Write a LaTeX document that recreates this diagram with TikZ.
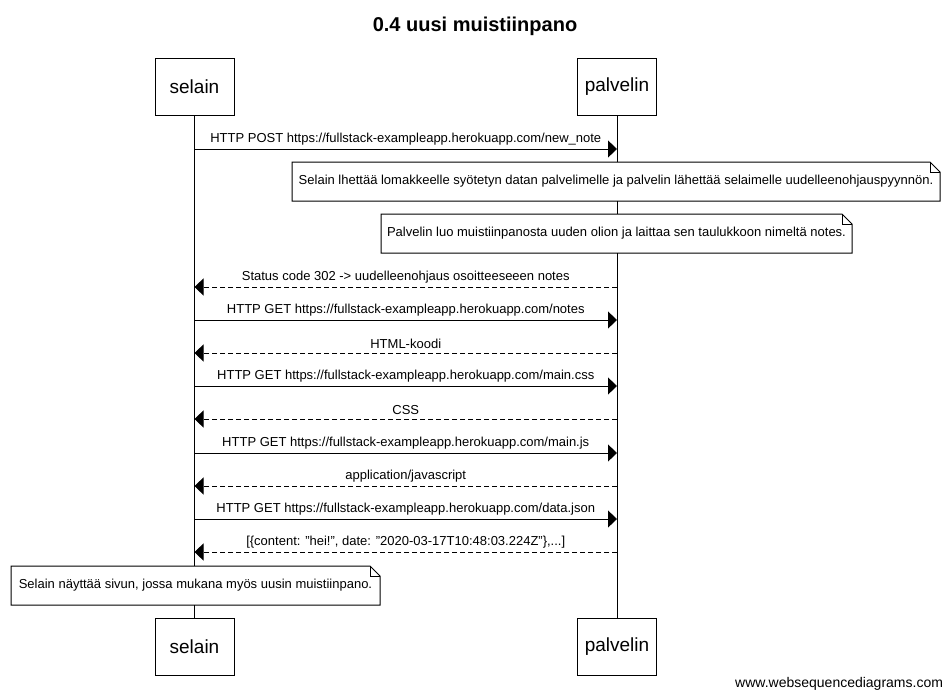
\documentclass[tikz,border=0pt]{standalone}
\usepackage{fontspec}
\setmainfont{Liberation Sans}
\usetikzlibrary{arrows.meta}
\begin{document}
\begin{tikzpicture}[x=1pt,y=-1pt,
  every node/.style={inner sep=0pt,outer sep=0pt},
  actor/.style={draw,line width=1pt,minimum width=79pt,minimum height=57pt,font=\fontsize{19}{22}\selectfont},
  msgtext/.style={font=\fontsize{13}{15}\selectfont,anchor=south},
  notetext/.style={font=\fontsize{13}{15}\selectfont},
  req/.style={line width=1pt,-{Triangle[length=9pt,width=17pt]}},
  resp/.style={line width=1pt,dash pattern=on 5pt off 3pt,-{Triangle[length=9pt,width=17pt]}},
  notefill/.style={fill=white,draw=none},
  noteline/.style={line width=1pt,line join=miter}
]
\useasboundingbox (0,0) rectangle (950,699);
\fill[white] (0,0) rectangle (950,699);

% title
\node[font=\bfseries\fontsize{20}{24}\selectfont] (title) at (475,26) {0.4 uusi muistiinpano};

% participants
\node[actor] (stop) at (194.5,86.5) {selain};
\node[actor] (ptop) at (617,86.5) {palvelin};
\node[actor] (sbot) at (194.5,646.5) {selain};
\node[actor] (pbot) at (617,646.5) {palvelin};

% lifelines
\draw[line width=1pt] (stop.south) -- (sbot.north);
\draw[line width=1pt] (ptop.south) -- (pbot.north);

% message anchor coordinates
\foreach \i/\y in {1/149,2/287,3/320,4/353,5/386,6/419,7/453,8/486,9/519,10/552}{
  \coordinate (s\i) at (194.5,\y);
  \coordinate (p\i) at (617,\y);
}

% messages
\draw[req] (s1) -- node[msgtext,above=4pt] {HTTP POST https://fullstack-exampleapp.herokuapp.com/new\_note} (p1);

% note 1
\node[notefill,minimum width=648pt,minimum height=39pt] (n1) at (616,181.5) {};
\node[notetext] (n1t) at (n1.center) {Selain lhettää lomakkeelle syötetyn datan palvelimelle ja palvelin lähettää selaimelle uudelleenohjauspyynnön.};
\draw[noteline] (n1.north west) -- ([xshift=-10pt]n1.north east) -- ([yshift=-10pt]n1.north east) -- (n1.south east) -- (n1.south west) -- cycle;
\draw[noteline] ([xshift=-10pt]n1.north east) -- ([xshift=-10pt,yshift=-10pt]n1.north east) -- ([yshift=-10pt]n1.north east);

% note 2
\node[notefill,minimum width=471pt,minimum height=39pt] (n2) at (616.5,233.5) {};
\node[notetext] (n2t) at (n2.center) {Palvelin luo muistiinpanosta uuden olion ja laittaa sen taulukkoon nimeltä notes.};
\draw[noteline] (n2.north west) -- ([xshift=-10pt]n2.north east) -- ([yshift=-10pt]n2.north east) -- (n2.south east) -- (n2.south west) -- cycle;
\draw[noteline] ([xshift=-10pt]n2.north east) -- ([xshift=-10pt,yshift=-10pt]n2.north east) -- ([yshift=-10pt]n2.north east);

\draw[resp] (p2) -- node[msgtext,above=4pt] {Status code 302 -> uudelleenohjaus osoitteeseeen notes} (s2);
\draw[req] (s3) -- node[msgtext,above=4pt] {HTTP GET https://fullstack-exampleapp.herokuapp.com/notes} (p3);
\draw[resp] (p4) -- node[msgtext,above=4pt] {HTML-koodi} (s4);
\draw[req] (s5) -- node[msgtext,above=4pt] {HTTP GET https://fullstack-exampleapp.herokuapp.com/main.css} (p5);
\draw[resp] (p6) -- node[msgtext,above=4pt] {CSS} (s6);
\draw[req] (s7) -- node[msgtext,above=4pt] {HTTP GET https://fullstack-exampleapp.herokuapp.com/main.js} (p7);
\draw[resp] (p8) -- node[msgtext,above=4pt] {application/javascript} (s8);
\draw[req] (s9) -- node[msgtext,above=4pt] {HTTP GET https://fullstack-exampleapp.herokuapp.com/data.json} (p9);
\draw[resp] (p10) -- node[msgtext,above=4pt] {[\{content: "hei!", date: "2020-03-17T10:48:03.224Z"\},...]} (s10);

% note 3
\node[notefill,minimum width=369pt,minimum height=39pt] (n3) at (195.5,585.5) {};
\node[notetext] (n3t) at (n3.center) {Selain näyttää sivun, jossa mukana myös uusin muistiinpano.};
\draw[noteline] (n3.north west) -- ([xshift=-10pt]n3.north east) -- ([yshift=-10pt]n3.north east) -- (n3.south east) -- (n3.south west) -- cycle;
\draw[noteline] ([xshift=-10pt]n3.north east) -- ([xshift=-10pt,yshift=-10pt]n3.north east) -- ([yshift=-10pt]n3.north east);

% footer
\node[font=\fontsize{14}{16}\selectfont,anchor=east] (footer) at (943,684) {www.websequencediagrams.com};
\end{tikzpicture}
\end{document}
